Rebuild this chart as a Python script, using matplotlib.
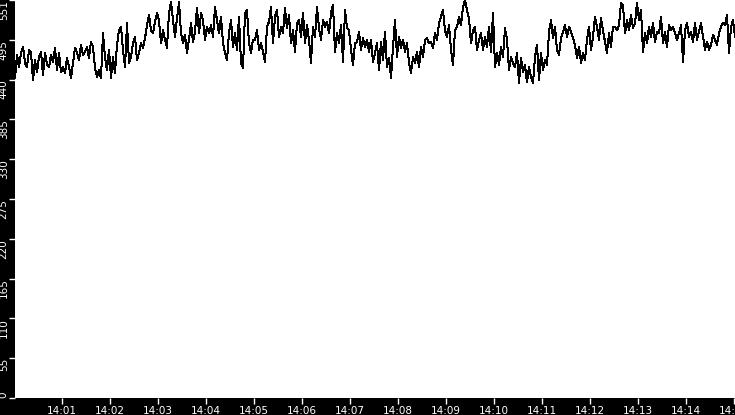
import matplotlib
matplotlib.use("Agg")
import matplotlib.pyplot as plt
import numpy as np
import pandas as pd

# sampled readings, one every 2.5 s starting 14:00:01
start = "2024-01-01 14:00:01"
step_s = 2.5
values = [
    443, 475, 458, 478, 486, 464, 458, 482, 478, 440, 468, 451, 472, 479, 447, 478, 461, 458, 475, 465,
    485, 454, 478, 451, 458, 450, 471, 458, 443, 464, 485, 478, 468, 489, 475, 479, 486, 471, 493, 486,
    457, 444, 454, 443, 505, 471, 454, 482, 443, 472, 450, 489, 509, 514, 482, 458, 519, 464, 472, 491,
    500, 468, 478, 491, 485, 498, 516, 530, 509, 505, 521, 533, 523, 491, 509, 496, 485, 533, 548, 523,
    500, 526, 548, 505, 491, 503, 478, 496, 519, 493, 507, 540, 505, 533, 523, 496, 514, 505, 516, 500,
    541, 523, 505, 528, 491, 478, 468, 505, 523, 486, 505, 482, 528, 464, 457, 533, 537, 491, 478, 496,
    496, 509, 482, 491, 479, 465, 514, 521, 541, 491, 528, 537, 500, 514, 505, 540, 512, 530, 491, 509,
    479, 519, 523, 500, 533, 491, 516, 496, 464, 514, 500, 541, 512, 496, 523, 514, 521, 505, 533, 544,
    479, 505, 491, 516, 465, 537, 512, 509, 482, 461, 491, 493, 507, 482, 498, 486, 496, 479, 496, 465,
    478, 491, 454, 493, 468, 507, 458, 471, 443, 486, 523, 472, 500, 485, 496, 479, 491, 464, 450, 472,
    464, 479, 458, 486, 472, 496, 498, 491, 493, 485, 505, 496, 519, 528, 537, 509, 500, 516, 482, 461,
    509, 514, 528, 516, 541, 551, 537, 526, 491, 509, 514, 482, 496, 505, 482, 500, 486, 514, 479, 533,
    458, 478, 461, 486, 472, 512, 496, 454, 472, 464, 458, 478, 436, 471, 451, 461, 437, 458, 444, 436,
    472, 489, 440, 478, 454, 468, 461, 507, 523, 498, 514, 482, 475, 498, 507, 516, 500, 514, 507, 498,
    489, 471, 486, 464, 478, 468, 496, 514, 482, 500, 528, 514, 496, 526, 509, 493, 478, 505, 486, 514,
    514, 509, 516, 547, 544, 505, 523, 509, 530, 512, 519, 547, 523, 537, 479, 505, 491, 514, 500, 519,
    493, 507, 505, 528, 491, 507, 486, 516, 509, 514, 505, 496, 505, 516, 465, 509, 519, 500, 507, 493,
    519, 496, 507, 519, 500, 482, 493, 482, 489, 503, 496, 489, 505, 514, 519, 516, 530, 478, 514, 523,
    500,
]
y_max = 551
minute_labels = ["14:01", "14:02", "14:03", "14:04", "14:05", "14:06", "14:07", "14:08",
                 "14:09", "14:10", "14:11", "14:12", "14:13", "14:14", "14:15"]

times = pd.date_range(start, periods=len(values), freq=pd.Timedelta(seconds=step_s))

fig = plt.figure(figsize=(7.35, 4.15), dpi=100, facecolor="black")
ax = fig.add_axes([15 / 735, 17 / 415, 720 / 735, 398 / 415])
ax.set_facecolor("white")

ax.plot(times, values, color="black", lw=0.72, antialiased=False)

ax.set_xlim(times[0], times[-1])
ax.set_ylim(0, y_max)

yt = np.linspace(0, y_max, 11)
ax.set_yticks(yt)
ax.set_yticklabels([str(int(v)) for v in yt], rotation=90, va="top")
ax.get_yticklabels()[0].set_va("bottom")

xt = pd.to_datetime(["2024-01-01 " + m for m in minute_labels])
ax.set_xticks(xt)
ax.set_xticklabels(minute_labels)

ax.tick_params(colors="white", labelsize=7.5, length=4, width=1, direction="out")
ax.tick_params(axis="y", pad=0.5)
ax.tick_params(axis="x", pad=1.5)
for s in ax.spines.values():
    s.set_visible(False)

fig.savefig("out.png", dpi=100, facecolor="black")
